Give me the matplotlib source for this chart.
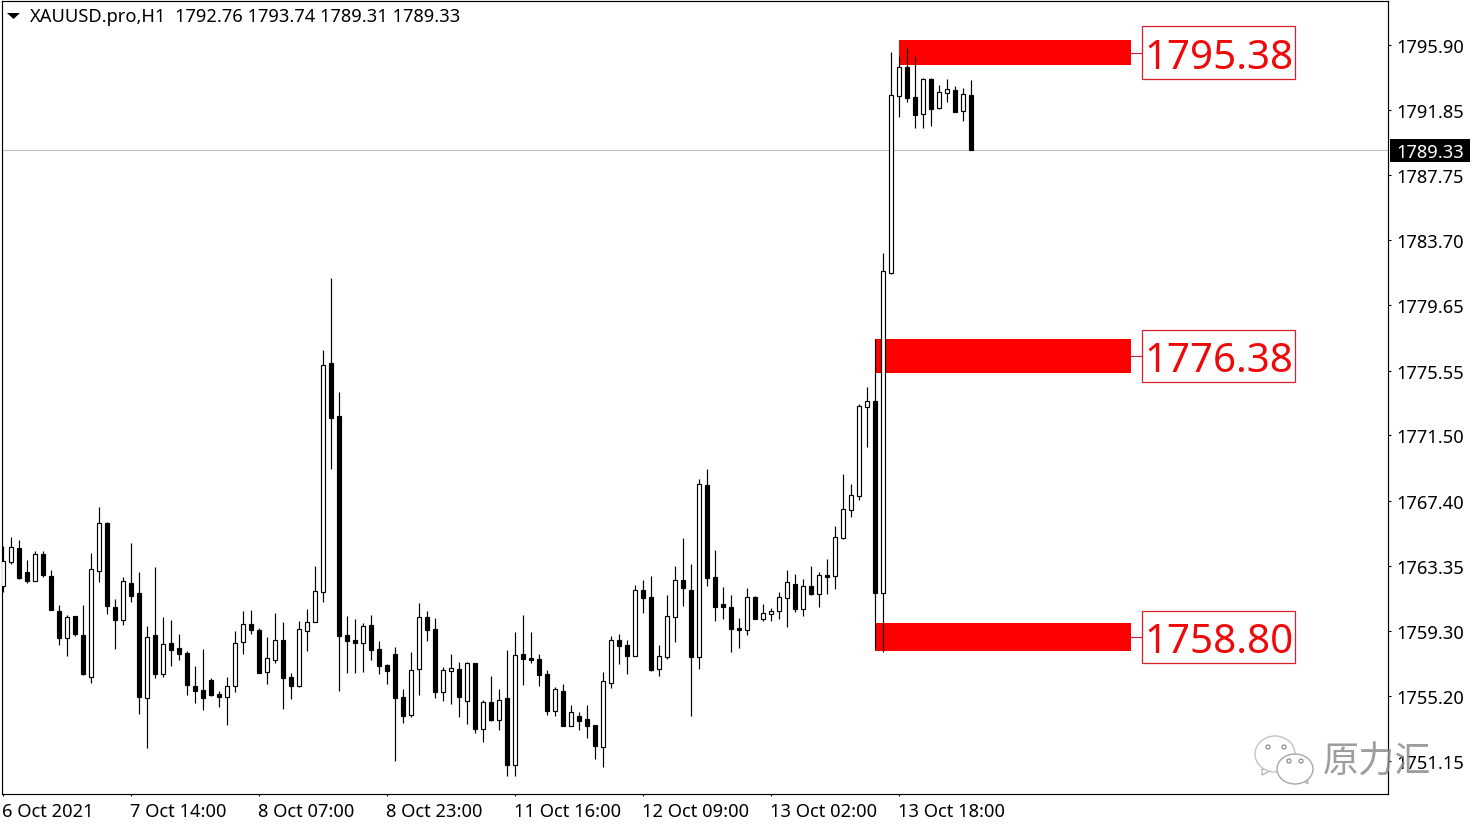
import matplotlib
matplotlib.use("Agg")
import matplotlib.pyplot as plt
from matplotlib.patches import Ellipse, Polygon, Rectangle
from matplotlib.transforms import Affine2D, ScaledTranslation

opens = [1762.07, 1763.61, 1764.46, 1762.96, 1762.42, 1764.09, 1762.71, 1760.52, 1758.86, 1760.21,
         1759.02, 1756.42, 1763.05, 1766.05, 1760.77, 1759.98, 1762.27, 1761.65, 1755.11, 1759.02,
         1756.61, 1758.52, 1758.21, 1757.90, 1755.84, 1755.59, 1756.21, 1755.34, 1755.17, 1755.82,
         1758.57, 1759.71, 1759.34, 1756.69, 1757.48, 1758.71, 1756.40, 1755.86, 1759.30, 1759.86,
         1761.73, 1776.03, 1772.71, 1759.03, 1758.71, 1758.55, 1759.65, 1758.15, 1757.15, 1757.84,
         1755.15, 1754.05, 1756.92, 1760.15, 1759.40, 1755.48, 1756.80, 1756.90, 1754.92, 1757.28,
         1753.17, 1754.84, 1753.73, 1755.09, 1750.92, 1757.84, 1757.59, 1757.53, 1756.59, 1754.30,
         1755.53, 1753.36, 1753.96, 1753.78, 1753.40, 1752.05, 1756.05, 1758.71, 1758.40, 1757.73,
         1761.84, 1761.40, 1756.92, 1757.65, 1760.17, 1762.46, 1761.84, 1757.67, 1768.40, 1762.65,
         1760.96, 1760.78, 1759.46, 1759.36, 1761.40, 1760.05, 1760.36, 1760.55, 1761.36, 1762.21,
         1760.67, 1762.09, 1761.61, 1762.78, 1762.73, 1765.11, 1766.86, 1767.73, 1773.30, 1773.65,
         1761.67, 1781.65, 1792.73, 1794.53, 1792.65, 1791.61, 1793.78, 1791.96, 1792.92, 1793.09,
         1791.80, 1792.76]
highs = [1764.61, 1765.13, 1764.96, 1763.71, 1764.27, 1764.27, 1763.09, 1760.90, 1760.27, 1760.21,
         1760.90, 1764.15, 1767.02, 1766.09, 1761.27, 1762.65, 1764.77, 1762.96, 1759.59, 1763.27,
         1760.15, 1759.96, 1759.09, 1758.02, 1757.09, 1758.15, 1756.34, 1755.52, 1756.40, 1759.27,
         1760.52, 1760.59, 1759.46, 1758.90, 1760.40, 1759.84, 1756.65, 1759.90, 1760.65, 1763.34,
         1776.84, 1781.34, 1774.21, 1760.21, 1760.03, 1759.78, 1760.28, 1758.65, 1757.21, 1758.28,
         1755.65, 1757.96, 1761.03, 1760.52, 1760.09, 1757.03, 1757.84, 1757.34, 1757.34, 1757.28,
         1754.96, 1756.46, 1755.65, 1758.09, 1759.21, 1760.28, 1759.21, 1757.84, 1756.84, 1755.78,
         1755.96, 1754.65, 1754.21, 1754.65, 1753.40, 1756.71, 1758.96, 1759.09, 1758.71, 1762.15,
         1762.46, 1762.71, 1758.40, 1761.53, 1763.34, 1765.09, 1763.46, 1768.78, 1769.40, 1764.34,
         1762.03, 1761.53, 1760.09, 1761.96, 1761.46, 1760.96, 1760.71, 1761.71, 1763.09, 1762.84,
         1762.53, 1763.34, 1762.96, 1763.78, 1765.84, 1769.09, 1768.46, 1773.46, 1774.53, 1777.53,
         1782.90, 1795.46, 1795.23, 1795.71, 1795.21, 1793.84, 1793.84, 1793.40, 1793.78, 1793.34,
         1793.21, 1793.74]
lows = [1761.73, 1763.46, 1762.52, 1762.30, 1762.42, 1762.65, 1760.61, 1758.40, 1757.71, 1758.96,
        1756.52, 1756.02, 1762.34, 1760.34, 1758.15, 1759.65, 1761.09, 1754.09, 1751.96, 1756.34,
        1756.40, 1757.09, 1757.46, 1755.27, 1754.77, 1754.34, 1755.21, 1754.52, 1753.40, 1755.46,
        1757.84, 1759.09, 1756.65, 1755.96, 1757.28, 1754.40, 1755.03, 1755.80, 1758.03, 1759.86,
        1761.09, 1769.40, 1755.53, 1756.65, 1756.65, 1756.71, 1757.46, 1756.59, 1755.96, 1751.15,
        1753.53, 1753.90, 1755.28, 1758.65, 1755.09, 1754.90, 1754.71, 1753.90, 1753.46, 1752.90,
        1752.34, 1753.65, 1753.09, 1750.21, 1750.21, 1755.90, 1757.28, 1755.84, 1754.03, 1753.96,
        1753.34, 1753.32, 1753.09, 1752.59, 1751.28, 1750.78, 1755.71, 1757.21, 1756.59, 1757.73,
        1760.40, 1756.78, 1756.46, 1757.53, 1758.59, 1760.84, 1753.96, 1756.90, 1762.09, 1759.90,
        1760.03, 1757.96, 1758.21, 1759.03, 1760.03, 1759.90, 1759.90, 1760.03, 1759.53, 1760.46,
        1760.21, 1761.53, 1760.78, 1761.59, 1761.90, 1765.03, 1766.40, 1767.46, 1770.78, 1758.15,
        1757.98, 1781.61, 1791.40, 1792.34, 1790.71, 1790.71, 1790.84, 1791.90, 1792.34, 1791.71,
        1791.15, 1789.31]
closes = [1763.63, 1764.50, 1762.57, 1762.40, 1764.07, 1762.77, 1760.61, 1758.86, 1760.13, 1759.09,
          1756.59, 1763.13, 1766.00, 1760.84, 1759.96, 1762.38, 1761.46, 1755.15, 1758.88, 1756.59,
          1758.44, 1758.09, 1757.84, 1755.90, 1755.52, 1755.09, 1755.27, 1755.15, 1755.82, 1758.50,
          1759.69, 1759.34, 1756.65, 1757.57, 1758.69, 1756.34, 1755.84, 1759.38, 1759.82, 1761.75,
          1775.88, 1772.59, 1758.96, 1758.65, 1758.53, 1759.57, 1758.09, 1757.09, 1756.78, 1755.09,
          1753.96, 1756.82, 1760.13, 1759.34, 1755.46, 1756.82, 1756.94, 1755.15, 1757.28, 1753.15,
          1754.82, 1753.71, 1754.94, 1750.90, 1757.75, 1757.53, 1757.46, 1756.53, 1754.28, 1755.63,
          1753.34, 1754.19, 1753.65, 1753.34, 1752.09, 1756.13, 1758.69, 1758.34, 1757.71, 1761.82,
          1761.34, 1756.84, 1757.69, 1760.19, 1762.44, 1761.96, 1757.65, 1768.44, 1762.59, 1760.78,
          1760.78, 1759.40, 1759.34, 1761.38, 1760.03, 1760.38, 1760.50, 1761.38, 1762.32, 1760.65,
          1762.07, 1761.59, 1762.75, 1762.65, 1765.13, 1766.88, 1767.75, 1773.32, 1773.63, 1761.65,
          1781.75, 1792.75, 1794.50, 1792.59, 1791.53, 1793.78, 1791.90, 1792.94, 1793.13, 1791.71,
          1792.82, 1789.33]

price_ticks = [1795.90, 1791.85, 1787.75, 1783.70, 1779.65, 1775.55, 1771.50, 1767.40, 1763.35,
               1759.30, 1755.20, 1751.15]
date_ticks = [0, 16, 32, 48, 64, 80, 96, 112]
date_labels = ["6 Oct 2021", "7 Oct 14:00", "8 Oct 07:00", "8 Oct 23:00", "11 Oct 16:00",
               "12 Oct 09:00", "13 Oct 02:00", "13 Oct 18:00"]

zone_labels = ["1795.38", "1776.38", "1758.80"]
zone_tops = [1796.21, 1777.53, 1759.78]
zone_bottoms = [1794.65, 1775.40, 1758.03]
zone_starts = [112, 109, 109]
zone_end = 141

last_price = 1789.33

W, H = 1480, 828
FS = 13.2
plt.rcParams['font.family'] = "Noto Sans"
plt.rcParams['font.size'] = FS

fig = plt.figure(figsize=(W / 100, H / 100), dpi=100, facecolor="white")
ax = fig.add_axes([2 / W, 1 - 795 / H, 1386 / W, 793 / H])
ax.set_xlim(-0.125, 173.125)
ax.set_ylim(1749.0875, 1798.65)

ax.axhline(last_price, color="#c0c0c0", lw=0.8, zorder=1)

for i in range(3):
    ax.add_patch(Rectangle((zone_starts[i], zone_bottoms[i]), zone_end - zone_starts[i],
                           zone_tops[i] - zone_bottoms[i], facecolor="#ff0000", edgecolor="none", zorder=1.5))
    mid = (zone_tops[i] + zone_bottoms[i]) / 2
    ax.plot([zone_end, 142.4], [mid, mid], color="#c8202c", lw=0.8, zorder=1.5, clip_on=False)
    ax.add_patch(Rectangle((142.4, mid - 1.63), 19.1, 3.26, facecolor="white", edgecolor="#d8202c", lw=0.9, zorder=4))
    ax.text(151.95, mid, zone_labels[i], color="#ee0a0a", fontsize=29, ha="center", va="center_baseline", zorder=5)

bars = range(len(opens))
ax.vlines(bars, lows, highs, color="black", lw=0.85, zorder=2)
for i in bars:
    up = closes[i] > opens[i]
    ax.bar(i, abs(closes[i] - opens[i]), bottom=min(opens[i], closes[i]), width=0.5,
           facecolor="white" if up else "black", edgecolor="black", lw=0.85, zorder=3)

for s in ax.spines.values():
    s.set_linewidth(0.85)
    s.set_color("black")

ax.yaxis.tick_right()
ax.set_yticks(price_ticks)
ax.set_yticklabels(["%.2f" % p for p in price_ticks])
ax.tick_params(axis="y", length=2.2, width=0.8, pad=4.0, labelsize=FS)
ax.set_xticks(date_ticks)
ax.set_xticklabels(date_labels, ha="left")
ax.tick_params(axis="x", length=1.5, width=0.8, pad=4.4, labelsize=FS)
shift = ScaledTranslation(-1 / 100, 0, fig.dpi_scale_trans)
for lab in ax.get_xticklabels():
    lab.set_transform(lab.get_transform() + shift)

# current price tag
tag = ax.get_yaxis_transform()
ax.add_patch(Rectangle((1.00144, last_price - 0.72), 0.0577, 1.44, transform=tag, facecolor="black",
                       edgecolor="none", clip_on=False, zorder=6))
ax.text(1.0063, last_price, "%.2f" % last_price, transform=tag, color="white", fontsize=FS,
        va="center_baseline", ha="left", zorder=7)

# header
px = Affine2D().scale(1, -1).translate(0, H)
fig.add_artist(Polygon([(7, 14), (20, 14), (13.5, 20)], closed=True, facecolor="black", edgecolor="none", transform=px))
fig.text(30 / W, 1 - 17.5 / H, "XAUUSD.pro,H1", va="center", ha="left", fontsize=FS)
fig.text(175 / W, 1 - 17.5 / H, "1792.76 1793.74 1789.31 1789.33", va="center", ha="left", fontsize=FS)

# watermark
wm = "#a8a8a8"
fig.add_artist(Polygon([(1262, 770), (1262, 776), (1272, 771)], closed=True, facecolor="white", edgecolor=wm, lw=0.8, transform=px))
fig.add_artist(Ellipse((1275, 755), 40, 36, facecolor="white", edgecolor="#c4c4c4", lw=1.0, transform=px))
fig.add_artist(Polygon([(1300, 780), (1308, 785), (1307, 776)], closed=True, facecolor="white", edgecolor=wm, lw=0.8, transform=px))
fig.add_artist(Ellipse((1295, 770), 36, 30, facecolor="white", edgecolor=wm, lw=1.0, transform=px))
for ex, ey in [(1268, 748), (1284, 748), (1289, 762), (1301, 762)]:
    fig.add_artist(Ellipse((ex, ey), 4, 4, facecolor="white", edgecolor="#808080", lw=0.8, transform=px))
fig.text(1377 / W, 1 - 763 / H, "原力汇", family=["Noto Sans CJK SC", "DejaVu Sans"], color="#8c8c8c", alpha=0.85,
         fontsize=26, va="center", ha="center", zorder=10)

fig.savefig("out.png", dpi=100, facecolor="white")
